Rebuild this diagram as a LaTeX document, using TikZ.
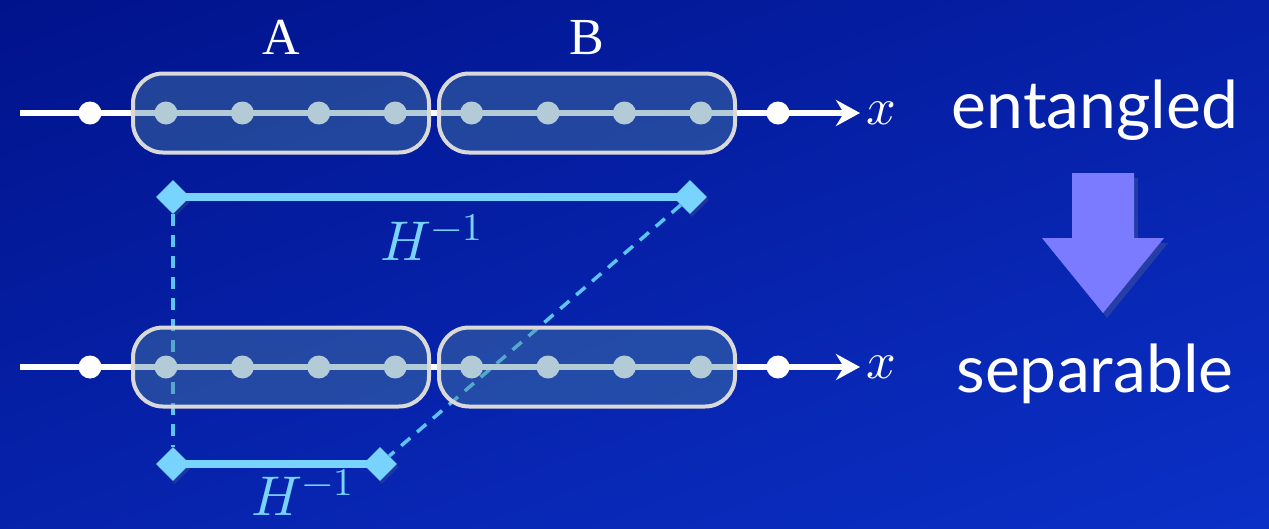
\documentclass[tikz,border=0pt]{standalone}
\usepackage{fontspec}
\usepackage{unicode-math}
\newfontfamily\gillfont{Lato}
\newfontfamily\timesfont{Liberation Serif}
\usetikzlibrary{positioning,shapes.geometric,arrows.meta,shadows}
\definecolor{bgtop}{HTML}{01138C}
\definecolor{bgbottom}{HTML}{0B30C6}
\definecolor{boxfill}{HTML}{4C81A0}
\definecolor{boxline}{HTML}{D9D9D9}
\definecolor{hblue}{HTML}{78D4FF}
\definecolor{hdash}{HTML}{5CC4F0}
\definecolor{flowarrow}{HTML}{7B7BFF}

\begin{document}
\begin{tikzpicture}[x=1pt, y=-1pt,
      every node/.style={inner sep=0pt, text=white},
      site/.style={circle, fill=white, minimum size=23pt},
      block/.style={draw=boxline, line width=4pt, fill=boxfill,
        fill opacity=0.42, draw opacity=1, rounded corners=30pt,
        minimum width=296pt, minimum height=79pt},
      chain/.style={draw=white, line width=6pt, shorten >=6pt,
        -{Stealth[length=24pt, width=26pt]}},
      tip/.style={diamond, fill=hblue, minimum size=34pt,
        drop shadow={opacity=0.2, shadow xshift=2pt, shadow yshift=-3pt}},
      hbar/.style={draw=hblue, line width=8pt},
      link/.style={draw=hdash, line width=3.5pt, dash pattern=on 12pt off 9pt},
      blocklabel/.style={font=\timesfont\fontsize{52}{62}\selectfont},
      axislabel/.style={font=\fontsize{52}{62}\selectfont},
      state/.style={font=\gillfont\fontsize{66}{78}\selectfont},
      hlabel/.style={font=\fontsize{56}{66}\selectfont, text=hblue}
    ]
  \clip (0,0) rectangle (1269,528);
  \shade[top color=bgtop, bottom color=bgbottom, shading angle=20]
    (-100,-100) rectangle (1369,628);

  \node[tip] (t1) at (173,197) {};
  \node[tip] (t2) at (690,197) {};
  \node[tip] (b1) at (173,464) {};
  \node[tip] (b2) at (380,464) {};
  \draw[hbar] (t1.center) -- node[hlabel, below=13pt] (h1) {$H^{-1}$} (t2.center);
  \draw[hbar] (b1.center) -- node[hlabel, below=1pt, xshift=26pt] (h2) {$H^{-1}$} (b2.center);
  \draw[link] (t1) -- (b1);
  \draw[link] (t2) -- (b2);

  \foreach \row/\ypos in {top/113, bot/367} {
    \coordinate (\row0) at (20,\ypos);
    \node[axislabel, anchor=west] (\row x) at (866,\ypos) {$x$};
    \draw[chain] (\row0) -- (\row x.west);
    \node[site] (\row s0) at (90,\ypos) {};
    \foreach \i in {1,...,8}
      \node[site] (\row s\i) at (166+76.4*\i-76.4,\ypos) {};
    \node[site] (\row s9) at (778,\ypos) {};
    \node[block] (\row A) at (281,\ypos) {};
    \node[block] (\row B) at (587,\ypos) {};
  }

  \node[blocklabel, above=17pt of topA] (labA) {A};
  \node[blocklabel, above=17pt of topB] (labB) {B};

  \node[state, anchor=base] (ent) at (1095,128) {entangled};
  \node[state, anchor=base] (sep) at (1095,392) {separable};

  \fill[flowarrow, drop shadow={opacity=0.25, shadow xshift=4pt, shadow yshift=-5pt}]
    (1072,173) -- (1134,173) -- (1134,238) -- (1164,238) -- (1103,313)
    -- (1042,238) -- (1072,238) -- cycle;
\end{tikzpicture}
\end{document}
